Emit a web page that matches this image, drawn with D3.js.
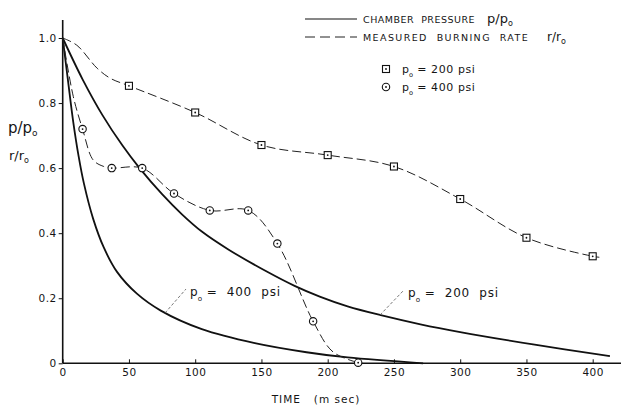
<!DOCTYPE html>
<html>
<head>
<meta charset="utf-8">
<script src="https://cdn.jsdelivr.net/npm/d3@7"></script>
<style>
  body { margin: 0; background: #fff; }
  text { font-family: "DejaVu Sans", sans-serif; fill: #151515; white-space: pre; }
</style>
</head>
<body>
<svg id="chart" width="623" height="409"></svg>
<script>
// tick values
var xTicks = [0, 50, 100, 150, 200, 250, 300, 350, 400];
var yTicks = [0, 0.2, 0.4, 0.6, 0.8, 1.0];

// chamber pressure p/po [time ms, value]
var pressure200 = [[0, 1.0], [15, 0.873], [30, 0.763], [45, 0.67], [58, 0.6], [75, 0.52],
                   [90, 0.458], [105, 0.405], [125, 0.35], [154, 0.282], [175, 0.238],
                   [194, 0.205], [215, 0.175], [240, 0.148], [270, 0.12], [300, 0.096],
                   [355, 0.058], [413, 0.022]];
var pressure400 = [[0, 1.0], [4, 0.869], [8, 0.741], [12, 0.637], [16, 0.553], [23, 0.444],
                   [31, 0.356], [41, 0.281], [56, 0.214], [74, 0.162], [105, 0.105],
                   [145, 0.062], [184, 0.034], [215, 0.018], [272, 0]];

// measured burning rate r/ro, dashed curves
var burning200 = [[0, 1.0], [10.6, 0.978], [26, 0.907], [36, 0.876], [50, 0.853], [100, 0.771],
                  [150, 0.671], [200, 0.64], [250, 0.605], [300, 0.505], [350, 0.386],
                  [400, 0.329], [405, 0.326]];
var burning400 = [[0, 1.0], [8, 0.82], [15, 0.72], [23, 0.625], [31, 0.605], [37, 0.6], [60, 0.6],
                  [84, 0.522], [111, 0.47], [140, 0.47], [162, 0.368], [189, 0.129],
                  [204, 0.035], [223, 0.002]];

// measured points
var squareTime = [50, 100, 150, 200, 250, 300, 350, 400];
var squareRate = [0.853, 0.771, 0.671, 0.64, 0.605, 0.505, 0.386, 0.329];
var circleTime = [15, 37, 60, 84, 111, 140, 162, 189, 223];
var circleRate = [0.72, 0.6, 0.6, 0.522, 0.47, 0.47, 0.368, 0.129, 0.002];

var svg = d3.select("#chart");

var x = d3.scaleLinear().domain([0, 400]).range([62.7, 592.7]);
var y = d3.scaleLinear().domain([0, 1]).range([363.3, 38]);

// axes
svg.append("line")
    .attr("x1", x(0)).attr("x2", 621)
    .attr("y1", y(0)).attr("y2", y(0))
    .attr("stroke", "#111").attr("stroke-width", 1.6);
svg.append("line")
    .attr("x1", x(0)).attr("x2", x(0))
    .attr("y1", 20).attr("y2", y(0))
    .attr("stroke", "#111").attr("stroke-width", 1.6);

var xAxis = d3.axisBottom(x)
    .tickValues(xTicks)
    .tickSizeInner(-4)
    .tickSizeOuter(0)
    .tickPadding(5)
    .tickFormat(d3.format("d"));

var yAxis = d3.axisLeft(y)
    .tickValues(yTicks)
    .tickSizeInner(4)
    .tickSizeOuter(0)
    .tickPadding(2)
    .tickFormat(function(d) { return d === 0 ? "0" : d3.format(".1f")(d); });

var gx = svg.append("g")
    .attr("transform", "translate(0," + y(0) + ")")
    .call(xAxis);
var gy = svg.append("g")
    .attr("transform", "translate(" + x(0) + ",0)")
    .call(yAxis);

[gx, gy].forEach(function(g) {
    g.select(".domain").remove();
    g.selectAll("line").attr("stroke", "#111").attr("stroke-width", 1);
    g.selectAll("text")
        .attr("fill", "#151515")
        .style("font-family", "'DejaVu Sans', sans-serif")
        .style("font-size", "10.5px")
        .style("letter-spacing", "0.5px");
});

// curves
var smooth = d3.line()
    .x(function(d) { return x(d[0]); })
    .y(function(d) { return y(d[1]); })
    .curve(d3.curveCatmullRom.alpha(0.5));

[pressure200, pressure400].forEach(function(s) {
    svg.append("path")
        .attr("d", smooth(s))
        .attr("fill", "none")
        .attr("stroke", "#111")
        .attr("stroke-width", 1.8);
});

[burning200, burning400].forEach(function(s) {
    svg.append("path")
        .attr("d", smooth(s))
        .attr("fill", "none")
        .attr("stroke", "#222")
        .attr("stroke-width", 1)
        .attr("stroke-dasharray", "9,4");
});

// markers
function drawSquare(cx, cy) {
    svg.append("rect")
        .attr("x", cx - 3.5).attr("y", cy - 3.5)
        .attr("width", 7).attr("height", 7)
        .attr("fill", "#fff").attr("stroke", "#111").attr("stroke-width", 1.1);
    svg.append("circle").attr("cx", cx).attr("cy", cy).attr("r", 0.9).attr("fill", "#111");
}
function drawCircle(cx, cy) {
    svg.append("circle")
        .attr("cx", cx).attr("cy", cy).attr("r", 3.7)
        .attr("fill", "#fff").attr("stroke", "#111").attr("stroke-width", 1.1);
    svg.append("circle").attr("cx", cx).attr("cy", cy).attr("r", 0.9).attr("fill", "#111");
}
squareTime.forEach(function(t, i) { drawSquare(x(t), y(squareRate[i])); });
circleTime.forEach(function(t, i) { drawCircle(x(t), y(circleRate[i])); });

// p0 label helper: p with a small subscript o
function pLabel(px, py, rest, size, spacing) {
    var t = svg.append("text")
        .attr("x", px).attr("y", py)
        .style("font-size", size + "px");
    t.append("tspan").text("p");
    t.append("tspan").attr("dy", size * 0.4)
        .style("font-size", (size * 0.6) + "px").text("o");
    t.append("tspan").attr("dy", -size * 0.4).style("letter-spacing", spacing + "px").text(rest);
    return t;
}

// curve labels with leader lines
svg.append("line")
    .attr("x1", 165).attr("y1", 313).attr("x2", 186).attr("y2", 289)
    .attr("stroke", "#555").attr("stroke-width", 0.8).attr("stroke-dasharray", "3,2");
pLabel(190, 296, " =  400  psi", 12, 0.8);

svg.append("line")
    .attr("x1", 380).attr("y1", 315).attr("x2", 404).attr("y2", 290)
    .attr("stroke", "#555").attr("stroke-width", 0.8).attr("stroke-dasharray", "3,2");
pLabel(408, 297, " =  200  psi", 12, 0.8);

// axis titles
var py = svg.append("text").attr("x", 8).attr("y", 133).style("font-size", "15px");
py.append("tspan").text("p/p");
py.append("tspan").attr("dy", 3).style("font-size", "9px").text("o");

var ry = svg.append("text").attr("x", 9).attr("y", 160).style("font-size", "13px");
ry.append("tspan").text("r/r");
ry.append("tspan").attr("dy", 3).style("font-size", "8px").text("o");

svg.append("text")
    .attr("x", 316).attr("y", 403)
    .attr("text-anchor", "middle")
    .style("font-size", "10.5px")
    .style("letter-spacing", "1px")
    .text("TIME   (m sec)");

// legend
svg.append("line")
    .attr("x1", 305).attr("x2", 357).attr("y1", 19).attr("y2", 19)
    .attr("stroke", "#111").attr("stroke-width", 1.1);
svg.append("line")
    .attr("x1", 305).attr("x2", 357).attr("y1", 37).attr("y2", 37)
    .attr("stroke", "#222").attr("stroke-width", 1).attr("stroke-dasharray", "10,5");

var l1 = svg.append("text").attr("x", 363).attr("y", 23);
l1.append("tspan").style("font-size", "9.5px").style("letter-spacing", "0.5px")
    .text("CHAMBER  PRESSURE");
l1.append("tspan").attr("x", 487).style("font-size", "13px").text("p/p");
l1.append("tspan").attr("dy", 3).style("font-size", "8px").text("o");

var l2 = svg.append("text").attr("x", 363).attr("y", 41);
l2.append("tspan").style("font-size", "9.5px").style("letter-spacing", "1.4px")
    .text("MEASURED  BURNING  RATE");
l2.append("tspan").attr("x", 547).style("font-size", "12px").text("r/r");
l2.append("tspan").attr("dy", 3).style("font-size", "8px").text("o");

drawSquare(386, 69);
drawCircle(386, 87);
pLabel(402, 73, " = 200 psi", 11, 0.6);
pLabel(402, 91, " = 400 psi", 11, 0.6);
</script>
</body>
</html>
